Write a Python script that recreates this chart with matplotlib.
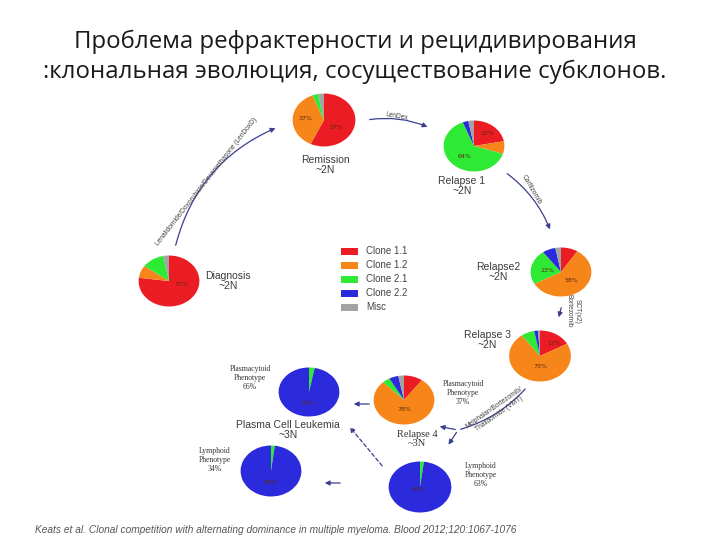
import matplotlib
matplotlib.use("Agg")
import matplotlib.pyplot as plt
from matplotlib.patches import FancyArrowPatch

# clone colours and legend
clone_names = ["Clone 1.1", "Clone 1.2", "Clone 2.1", "Clone 2.2", "Misc"]
clone_colors = ["#ec1c24", "#f7861a", "#2fea34", "#2b2bdd", "#a3a3a3"]

# pie values (clockwise from top): clone 1.1, 1.2, 2.1, 2.2, misc
diagnosis = [77, 8, 12, 0, 3]
remission = [57, 37, 3, 0, 3]
relapse1 = [22, 8, 64, 3, 3]
relapse2 = [9, 58, 23, 7, 3]
relapse3 = [17, 73, 7, 2, 1]
relapse4 = [10, 78, 4, 5, 3]
pcl_plasma = [0, 0, 3, 97, 0]
pcl_lymph = [0, 0, 2, 98, 0]
rel4_lymph = [0, 0, 2, 98, 0]

W, H = 720, 540
fig = plt.figure(figsize=(7.2, 5.4), dpi=100)
bg = fig.add_axes([0, 0, 1, 1])
bg.set_xlim(0, W)
bg.set_ylim(H, 0)
bg.axis("off")

bg.text(355, 42, "Проблема рефрактерности и рецидивирования", ha="center", va="center",
        fontsize=17.3, family="Open Sans", color="#1a1a1a")
bg.text(355, 72, ":клональная эволюция, сосуществование субклонов.", ha="center", va="center",
        fontsize=17.3, family="Open Sans", color="#1a1a1a")


def pie(cx, cy, w, h, vals, labels):
    ax = fig.add_axes([(cx - w / 2) / W, 1 - (cy + h / 2) / H, w / W, h / H])
    ax.pie(vals, colors=clone_colors, startangle=90, counterclock=False, radius=1,
           wedgeprops=dict(linewidth=0))
    ax.set_aspect("auto")
    ax.set_xlim(-1.02, 1.02)
    ax.set_ylim(-1.02, 1.02)
    ax.axis("off")
    for txt, dx, dy in labels:
        ax.text(dx, dy, txt, ha="center", va="center", fontsize=4.5, color="#5a2a10")
    return ax


pie(324, 120, 64, 54, remission, [("37%", -0.6, 0.05), ("57%", 0.4, -0.3)])
pie(474, 146, 62, 52, relapse1, [("22%", 0.45, 0.5), ("64%", -0.3, -0.4)])
pie(561, 272, 62, 50, relapse2, [("23%", -0.45, 0.05), ("58%", 0.35, -0.35)])
pie(540, 356, 63, 52, relapse3, [("17%", 0.45, 0.5), ("73%", 0.0, -0.4)])
pie(169, 281, 62, 52, diagnosis, [("77%", 0.4, -0.15)])
pie(404, 400, 62, 50, relapse4, [("78%", 0.0, -0.4)])
pie(309, 392, 62, 50, pcl_plasma, [("97%", 0.0, -0.45)])
pie(271, 471, 62, 52, pcl_lymph, [("98%", 0.0, -0.45)])
pie(420, 487, 64, 52, rel4_lymph, [("98%", -0.05, -0.1)])

# legend
for i, (name, col) in enumerate(zip(clone_names, clone_colors)):
    y = 251 + i * 14
    bg.add_patch(plt.Rectangle((341, y - 3.5), 17, 7, color=col, lw=0))
    bg.text(366, y, name, ha="left", va="center", fontsize=7, color="#444444",
            family="Liberation Sans")

sans = dict(ha="center", va="center", fontsize=7.5, color="#3a3a3a",
            family="Liberation Sans", linespacing=1.05)
serif = dict(ha="center", va="center", fontsize=5.5, color="#333333",
             family="Liberation Serif", linespacing=1.1)

bg.text(325, 165, "Remission\n~2N", **sans)
bg.text(462, 186, "Relapse 1\n~2N", **sans)
bg.text(498, 272, "Relapse2\n~2N", **sans)
bg.text(487, 340, "Relapse 3\n~2N", **sans)
bg.text(228, 281, "Diagnosis\n~2N", **sans)
bg.text(288, 430, "Plasma Cell Leukemia\n~3N", **sans)
bg.text(417, 439, "Relapse 4\n~3N", ha="center", va="center", fontsize=7.5,
        color="#333333", family="Liberation Serif", linespacing=1.1)
bg.text(463, 393, "Plasmacytoid\nPhenotype\n37%", **serif)
bg.text(250, 378, "Plasmacytoid\nPhenotype\n66%", **serif)
bg.text(215, 460, "Lymphoid\nPhenotype\n34%", **serif)
bg.text(481, 475, "Lymphoid\nPhenotype\n63%", **serif)

arrow_col = "#3b3f8f"


def arrow(p0, p1, rad, style="-|>", ls="-"):
    a = FancyArrowPatch(p0, p1, connectionstyle=f"arc3,rad={rad}", arrowstyle=style,
                        mutation_scale=7, color=arrow_col, lw=0.9, linestyle=ls)
    bg.add_patch(a)


arrow((175, 248), (278, 127), -0.25)
arrow((367, 120), (430, 128), -0.15)
arrow((505, 172), (551, 232), -0.15)
arrow((562, 305), (558, 320), 0.0)
arrow((527, 387), (458, 430), -0.15, style="-")
arrow((458, 430), (437, 426), 0.0)
arrow((458, 430), (447, 447), 0.0)
arrow((372, 404), (351, 404), 0.0)
arrow((384, 468), (348, 425), 0.0, ls=(0, (3, 2)))
arrow((343, 483), (322, 483), 0.0)

small = dict(ha="center", va="center", fontsize=4.8, color="#444444", family="Liberation Sans")
bg.text(207, 182, "Lenalidomide/Doxorubicin/Dexamethasone (LenDoxD)", rotation=52, **small)
bg.text(397, 116, "LenDex", rotation=-10, **small)
bg.text(531, 190, "Carfilzomib", rotation=-60, **small)
bg.text(569, 311, "Bortezomib", rotation=-90, **small)
bg.text(577, 311, "SCT(x2)", rotation=-90, **small)
bg.text(497, 411, "Melphalan/Bortezomib/\nThalidomide (VMT)", rotation=35, **small)

bg.text(35, 530, "Keats et al. Clonal competition with alternating dominance in multiple myeloma. "
        "Blood 2012;120:1067-1076", ha="left", va="center", fontsize=7.3, style="italic",
        color="#555555", family="Liberation Sans")

fig.savefig("out.png", dpi=100)
